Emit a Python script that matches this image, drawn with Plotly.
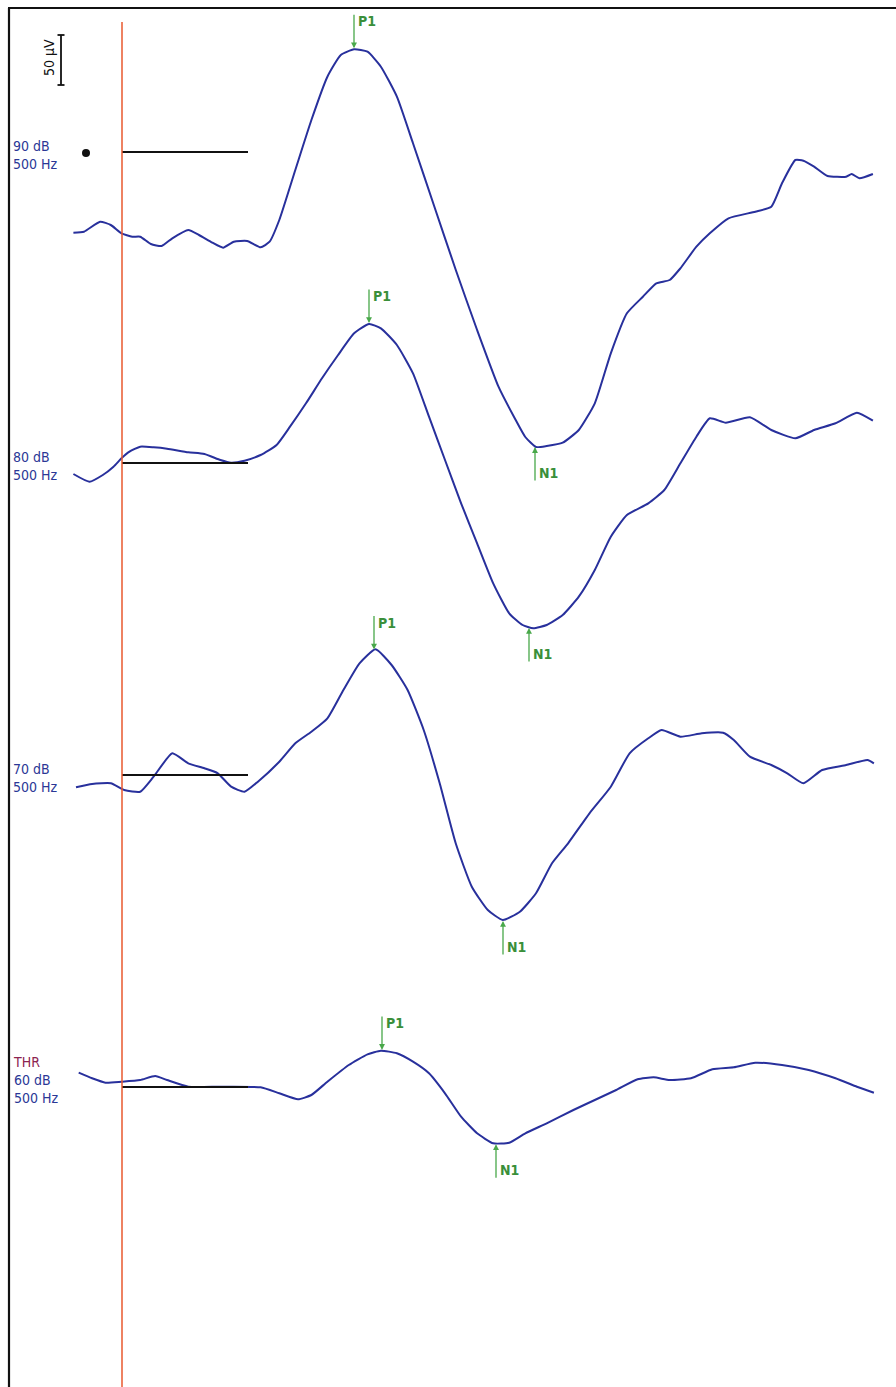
import numpy as np
import plotly.graph_objects as go

# ---------------- data (time in ms re: stimulus onset, amplitude in µV re: reference line) -------------
t_90 = [-48.6, -38, -21.9, -11.2, -0.5, 10.2, 18.2, 28.9, 39.6, 50.3, 66.3, 77, 90.4, 101.1, 111.8, 125.2,
        138.6, 147.6, 157.3, 173.3, 189.4, 205.4, 218.8, 232.1, 245.5, 258.9, 274.9, 291, 312.4, 333.8,
        355.1, 376.5, 392.6, 403.3, 414, 424.7, 440.7, 456.8, 472.8, 488.8, 504.9, 520.9, 534.3, 547.7,
        558.4, 574.4, 587.8, 606.5, 633.3, 649.3, 660, 673.4, 681.4, 692.1, 705.5, 724.2, 729.6, 737.5, 750.9]
a_90 = [-80.7, -79.7, -69.7, -73, -81.3, -84.7, -84.7, -92, -94, -86.3, -78, -83, -90.7, -95.7, -89.7, -89,
        -95.3, -89.7, -68, -18, 32, 75.3, 97, 102.7, 100.3, 85.3, 55.3, 8.7, -54.7, -118,
        -178, -234.7, -266, -285, -295, -294, -290.7, -278, -251.3, -201.3, -161.3, -144.7, -131.3, -128,
        -116.3, -94.7, -81.3, -66.3, -59.7, -54.7, -31.3, -8, -8.7, -14.7, -24, -24.7, -22, -26.3, -22]

t_80 = [-48.6, -32.6, -19.2, -8.5, -0.5, 7.5, 18.2, 31.6, 45, 66.3, 82.4, 98.4, 109.1, 122.5, 138.6, 154.6,
        168, 184, 200, 216.1, 232.1, 247.1, 258.9, 274.9, 291, 307, 323, 339.1, 355.1, 371.2, 387.2, 400.6,
        411.3, 424.7, 440.7, 456.8, 472.8, 488.8, 504.9, 526.3, 542.3, 558.4, 574.4, 587.8, 603.8, 627.9,
        649.3, 673.4, 692.1, 713.5, 734.9, 750.9]
a_80 = [-11, -18.7, -12, -3.7, 4.7, 11.3, 16.3, 15.7, 14.3, 10.7, 9, 3, 0.3, 2.3, 8, 18,
        36.3, 59.7, 84.7, 108, 129.7, 139, 134.7, 118, 89.7, 46.3, 3, -40.3, -80.3, -120.3, -150.3, -162,
        -165.3, -162, -152, -133.7, -107, -73.7, -52, -40.3, -27, -0.3, 26.3, 44.7, 40.3, 45.7,
        33, 24.7, 33, 39.7, 50.3, 42.3]

t_70 = [-46, -29.9, -11.2, 2.2, 18.2, 31.6, 50.3, 66.3, 82.4, 95.8, 109.1, 122.5, 135.9, 157.3, 173.3, 189.4,
        205.4, 221.4, 237.5, 253.5, 269.6, 285.6, 301.7, 317.7, 333.7, 349.8, 365.8, 380.8, 397.9, 414, 430,
        446.1, 467.5, 488.8, 507.6, 526.3, 539.6, 558.4, 579.8, 601.1, 611.8, 627.9, 649.3, 665.3, 681.4,
        700.1, 724.2, 745.5, 751.9]
a_70 = [-12.3, -9, -8.3, -15, -16.7, -1.7, 21.7, 11.7, 6.7, 1.7, -11.7, -16.7, -6.7, 13.3, 31.7, 43.3,
        56.7, 85, 111.7, 125.7, 110, 85, 45, -8.3, -68.3, -111.7, -135, -145, -136.7, -118.3, -88.3,
        -68.3, -38.3, -11.7, 21.7, 36.7, 45, 38.3, 41.7, 42.3, 35, 18.3, 10, 1.7, -8.3,
        5, 10, 15, 11.7]

t_60 = [-43.3, -29.9, -16.5, -0.5, 18.2, 33.2, 45, 66.3, 98.4, 138.6, 157.3, 176, 189.4, 205.4, 226.8, 245.5,
        258.9, 274.9, 291, 307, 323, 339.1, 355.1, 371.2, 387.2, 403.3, 424.7, 451.4, 472.8, 494.2, 515.6,
        531.6, 547.7, 569, 590.4, 611.8, 633.3, 660, 686.7, 713.5, 734.9, 751.9]
a_60 = [14.3, 8.7, 4.3, 5.3, 7, 11, 7, 0.3, 0.3, -0.3, -6.3, -12.3, -8, 5.3, 22, 32.7,
        36.3, 33.7, 25.3, 13.7, -6.3, -29.7, -46.3, -56.3, -55.7, -46.3, -36.3, -23, -13, -3, 7.7,
        9.7, 7, 8.7, 17.7, 19.7, 24.3, 22, 17, 8.7, 0.3, -5.7]

conditions = ["90 dB", "80 dB", "70 dB", "60 dB"]
frequency = "500 Hz"
p1_latency = [232, 247, 252, 260]
n1_latency = [413, 407, 381, 374]
scale_bar_uv = 50
baseline_end_ms = 126

# ---------------- layout / style -------------
OFFSETS = [-152, -463, -775, -1087]   # vertical position of each trace (µV units, 1 µV = 1 px)
LABEL_TOP = [16, 16, 16, 35]          # label block top, above each trace's reference line
BLUE = "#28309c"
LABEL_BLUE = "#2b3796"
GREEN_TXT = "#3a8f3a"
GREEN_ARR = "#49a84a"
RED = "#e8582e"
FONT = "Liberation Sans Narrow, Arial Narrow, DejaVu Sans Condensed, Liberation Sans, Arial, sans-serif"

series = [(t_90, a_90), (t_80, a_80), (t_70, a_70), (t_60, a_60)]

fig = go.Figure()
annotations = []
shapes = []

for i, ((t, a), off) in enumerate(zip(series, OFFSETS)):
    y = np.array(a) + off
    fig.add_trace(go.Scatter(x=t, y=y, mode="lines",
                             line=dict(color=BLUE, width=2, shape="spline", smoothing=0.5),
                             hoverinfo="skip", showlegend=False))
    # reference line in the pre-stimulus period
    shapes.append(dict(type="line", xref="x", yref="y", x0=0, x1=baseline_end_ms, y0=off, y1=off,
                       line=dict(color="#111111", width=2)))
    # condition labels
    lines = [conditions[i], frequency]
    if i == 3:
        lines = ["<span style='color:#8c2350'>THR</span>"] + lines
    annotations.append(dict(x=-111, y=off + LABEL_TOP[i], xref="x", yref="y", xanchor="left", yanchor="top",
                            text="<br>".join(lines), showarrow=False, align="left",
                            font=dict(family=FONT, size=14, color=LABEL_BLUE)))
    # P1 / N1 markers
    p1y = float(np.interp(p1_latency[i], t, y))
    n1y = float(np.interp(n1_latency[i], t, y))
    annotations.append(dict(x=p1_latency[i], y=p1y + 1, xref="x", yref="y", text="", showarrow=True,
                            ax=0, ay=-35, arrowhead=2, arrowsize=0.9, arrowwidth=1.3,
                            arrowcolor=GREEN_ARR))
    annotations.append(dict(x=p1_latency[i], y=p1y + 1, xref="x", yref="y", text="<b>P1</b>",
                            showarrow=False, xanchor="left", yanchor="middle", xshift=2, yshift=27,
                            font=dict(family=FONT, size=14, color=GREEN_TXT)))
    annotations.append(dict(x=n1_latency[i], y=n1y - 1, xref="x", yref="y", text="", showarrow=True,
                            ax=0, ay=35, arrowhead=2, arrowsize=0.9, arrowwidth=1.3,
                            arrowcolor=GREEN_ARR))
    annotations.append(dict(x=n1_latency[i], y=n1y - 1, xref="x", yref="y", text="<b>N1</b>",
                            showarrow=False, xanchor="left", yanchor="middle", xshift=2, yshift=-26,
                            font=dict(family=FONT, size=14, color=GREEN_TXT)))

# stimulus onset line
shapes.append(dict(type="line", xref="x", yref="y", x0=0, x1=0, y0=-22, y1=-1400,
                   line=dict(color=RED, width=1.5)))

# scale bar (50 µV)
sb_x = -61
sb_top = -35
shapes.append(dict(type="line", xref="x", yref="y", x0=sb_x, x1=sb_x, y0=sb_top, y1=sb_top - scale_bar_uv,
                   line=dict(color="#111111", width=1.8)))
for yy in (sb_top, sb_top - scale_bar_uv):
    shapes.append(dict(type="line", xref="x", yref="y", x0=sb_x - 3.5, x1=sb_x + 3.5, y0=yy, y1=yy,
                       line=dict(color="#111111", width=1.8)))
annotations.append(dict(x=sb_x - 12, y=sb_top - scale_bar_uv / 2 + 2, xref="x", yref="y",
                        text=f"{scale_bar_uv} µV", textangle=-90, showarrow=False,
                        font=dict(family=FONT, size=14, color="#111111")))

# black dot marker next to the 90 dB trace
fig.add_trace(go.Scatter(x=[-36], y=[OFFSETS[0] - 1], mode="markers",
                         marker=dict(color="#111111", size=8), hoverinfo="skip", showlegend=False))

# frame (left and top borders)
shapes.append(dict(type="line", xref="paper", yref="paper", x0=9 / 896, x1=9 / 896, y0=0, y1=1 - 8 / 1387,
                   line=dict(color="#111111", width=2.2)))
shapes.append(dict(type="line", xref="paper", yref="paper", x0=8 / 896, x1=1, y0=1 - 8 / 1387, y1=1 - 8 / 1387,
                   line=dict(color="#111111", width=2.2)))

fig.update_layout(
    width=896, height=1387,
    margin=dict(l=0, r=0, t=0, b=0),
    paper_bgcolor="white", plot_bgcolor="white",
    xaxis=dict(range=[-122, 774], visible=False, fixedrange=True),
    yaxis=dict(range=[-1387, 0], visible=False, fixedrange=True),
    shapes=shapes, annotations=annotations,
    showlegend=False,
)

fig.write_html("out.html")
